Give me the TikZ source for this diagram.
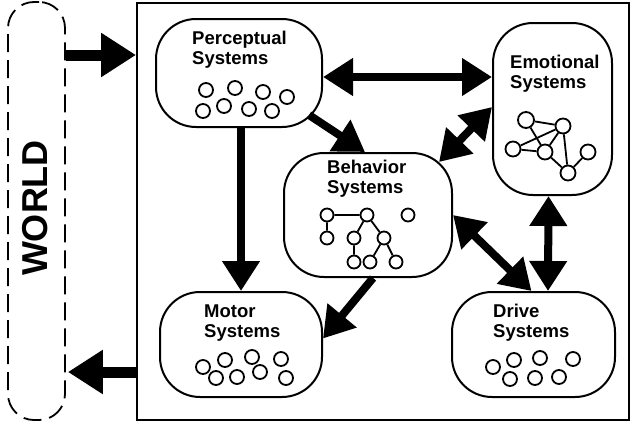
\documentclass[tikz,border=0pt]{standalone}
\usepackage{fontspec}
\setsansfont{Liberation Sans}
\usetikzlibrary{arrows.meta}
\tikzset{
  sysbox/.style={draw, line width=2pt, rounded corners=40pt, inner sep=0pt},
  boxlabel/.style={anchor=base west, align=left, inner sep=0pt,
    font=\sffamily\bfseries\fontsize{18.5}{20.5}\selectfont},
  unit/.style={draw, circle, line width=1.8pt, minimum size=14pt, inner sep=0pt},
  link/.style={line width=1.8pt},
  flow/.style={line width=8pt, >={Triangle[length=30pt,width=36pt]}},
  worldflow/.style={line width=11pt, >={Triangle[length=35pt,width=42pt]}},
}
\begin{document}
\begin{tikzpicture}[x=1pt,y=-1pt]
  \useasboundingbox (0,0) rectangle (631,423);
  % world and the creature
  \node[draw, line width=1.8pt, dash pattern=on 18pt off 8pt, rounded corners=26pt,
    minimum width=57pt, minimum height=418pt, inner sep=0pt] (world) at (36.5,211) {};
  \node[rotate=90, inner sep=0pt, font=\sffamily\bfseries\fontsize{36}{40}\selectfont]
    (worldlbl) at (35,208) {WORLD};
  \node[draw, line width=2pt, minimum width=492pt, minimum height=417pt, inner sep=0pt]
    (sys) at (383,211.5) {};

  % the five systems
  \node[sysbox, minimum width=166pt, minimum height=108pt] (perc) at (239,73) {};
  \node[sysbox, minimum width=119pt, minimum height=172pt] (emo) at (552.5,109) {};
  \node[sysbox, minimum width=168pt, minimum height=124pt] (beh) at (368,215) {};
  \node[sysbox, minimum width=162pt, minimum height=105pt] (mot) at (241,344.5) {};
  \node[sysbox, minimum width=163pt, minimum height=105pt] (drv) at (533.5,344.5) {};

  % labels, placed by the baseline of the second line
  \node[boxlabel] (percT) at (192,64.5) {Perceptual\\Systems};
  \node[boxlabel] (emoT) at (510,88.5) {Emotional\\Systems};
  \node[boxlabel] (behT) at (327,193.5) {Behavior\\Systems};
  \node[boxlabel] (motT) at (204,337.5) {Motor\\Systems};
  \node[boxlabel] (drvT) at (493,337.5) {Drive\\Systems};

  % units inside perceptual, motor and drive
  \foreach \p [count=\i] in {(206,90),(235,88),(263,92),(287,97),(203,111),(224,106),(249,109),(272,111)}
    \node[unit] (pu\i) at \p {};
  \foreach \p [count=\i] in {(203,367),(225,360),(252,357),(281,359),(216,378),(237,377),(260,372),(286,378)}
    \node[unit] (mu\i) at \p {};
  \foreach \p [count=\i] in {(493,367),(514,360),(540,358),(573,359),(510,379),(535,378),(559,377)}
    \node[unit] (du\i) at \p {};

  % emotional net
  \node[unit, minimum size=16pt] (ea) at (526,120) {};
  \node[unit, minimum size=15pt] (eb) at (563,126) {};
  \node[unit, minimum size=15pt] (ec) at (513,149) {};
  \node[unit, minimum size=15pt] (ed) at (545,152) {};
  \node[unit, minimum size=15pt] (ee) at (588,152) {};
  \node[unit, minimum size=15pt] (ef) at (568,173) {};
  \draw[link] (ea) -- (eb) (ea) -- (ed) (ec) -- (eb) (ec) -- (ed)
    (ed) -- (eb) (eb) -- (ef) (ed) -- (ef) (ee) -- (ef);

  % behavior tree
  \node[unit, minimum size=13pt] (b1) at (327,215) {};
  \node[unit, minimum size=13pt] (b2) at (367,215) {};
  \node[unit, minimum size=13pt] (b3) at (408,215) {};
  \node[unit, minimum size=13pt] (b4) at (327,238) {};
  \node[unit, minimum size=13pt] (b5) at (354,238) {};
  \node[unit, minimum size=13pt] (b6) at (384,238) {};
  \node[unit, minimum size=13pt] (b7) at (354,262) {};
  \node[unit, minimum size=13pt] (b8) at (370,262) {};
  \node[unit, minimum size=13pt] (b9) at (396,262) {};
  \draw[link] (b1) -- (b2) (b1) -- (b4) (b2) -- (b5) (b2) -- (b6)
    (b5) -- (b7) (b6) -- (b8) (b6) -- (b9);

  % connections
  \draw[flow, <->] ([yshift=-4pt]perc.east) -- ([yshift=32pt]emo.west);
  \draw[flow, ->] ([shift={(-14pt,13pt)}]perc.south east) -- ([xshift=-3pt]beh.north);
  \draw[flow, <->] ([shift={(-14pt,-10pt)}]beh.north east) -- ([yshift=2pt]emo.west);
  \draw[flow, ->] (perc.south -| mot.north) -- (mot.north);
  \draw[flow, ->] ([xshift=5pt]beh.south) -- ([yshift=6pt]mot.east);
  \draw[flow, <->] (beh.east) -- ([xshift=-2pt]drv.north);
  \draw[flow, <->] ([xshift=-4pt]emo.south) -- ([xshift=14.5pt]drv.north);
  \draw[worldflow, ->] ([yshift=156pt]world.east) -- ([yshift=156.5pt]sys.west);
  \draw[worldflow, ->] ([yshift=-160.5pt]sys.west) -- ([shift={(2pt,-161pt)}]world.east);
\end{tikzpicture}
\end{document}
